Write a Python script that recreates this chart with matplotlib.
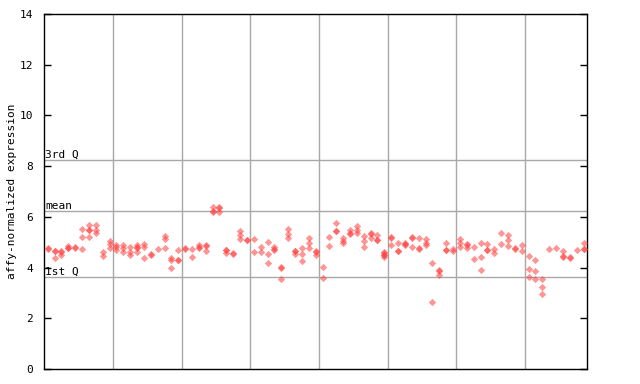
import matplotlib
matplotlib.use("Agg")
import matplotlib.pyplot as plt

# expression values per sample, grouped the way the grid lines split them (10 samples each)
g1 = [[4.78, 4.72], [4.67, 4.65, 4.37], [4.66, 4.62, 4.5], [4.85, 4.78, 4.76], [4.8, 4.78],
      [5.54, 5.22, 4.72], [5.67, 5.5, 5.48, 5.22], [5.67, 5.5, 5.38], [4.6, 4.45], [5.06, 4.93, 4.76]]
g2 = [[4.89, 4.8, 4.7], [4.89, 4.76, 4.6], [4.82, 4.6, 4.5], [4.89, 4.8, 4.78, 4.6], [4.93, 4.8, 4.37],
      [4.54, 4.5], [4.72], [5.24, 5.11, 4.76], [4.37, 4.28, 3.97], [4.68, 4.31, 4.29]]
g3 = [[4.77, 4.74], [4.72, 4.4], [4.89, 4.8, 4.78], [4.88, 4.86, 4.64], [6.38, 6.22, 6.18],
      [6.4, 6.36, 6.2], [4.7, 4.68, 4.58], [4.57, 4.54], [5.45, 5.28, 5.11], [5.09, 5.07]]
g4 = [[5.11, 4.62], [4.82, 4.62], [5.02, 4.52, 4.2], [4.8, 4.73, 4.71], [4.01, 3.99, 3.54],
      [5.54, 5.31, 5.15], [4.66, 4.64, 4.52], [4.76, 4.52, 4.26], [5.15, 4.95, 4.76], [4.64, 4.62, 4.5]]
g5 = [[4.02, 3.58], [5.22, 4.85], [5.74, 5.46, 5.44], [5.15, 5.06, 4.98], [5.48, 5.36, 5.34],
      [5.64, 5.48, 5.35], [5.24, 5.06, 4.8], [5.36, 5.34, 5.15], [5.28, 5.09, 5.07], [4.6, 4.58, 4.5, 4.48, 4.4]]
g6 = [[5.19, 5.17, 4.89], [4.95, 4.66, 4.64], [4.98, 4.92, 4.9], [5.19, 5.17, 4.8], [5.15, 4.77, 4.75],
      [5.11, 4.98, 4.89], [4.17, 2.65], [3.89, 3.87, 3.7], [4.98, 4.7, 4.68], [4.72, 4.66]]
g7 = [[5.11, 4.95, 4.8], [4.92, 4.9, 4.76], [4.82, 4.33], [4.95, 4.43, 3.89], [4.93, 4.7, 4.68],
      [4.72, 4.56], [5.38, 4.93], [5.28, 5.08, 4.85], [4.77, 4.75], [4.89, 4.67]]
g8 = [[4.46, 3.93, 3.64], [4.28, 3.86, 3.54], [3.54, 3.22, 2.95], [4.74], [4.76],
      [4.67, 4.44, 4.42], [4.4, 4.38], [4.69], [4.98, 4.75, 4.73]]

q1 = 3.63
mean = 6.23
q3 = 8.23
yticks = [0, 2, 4, 6, 8, 10, 12, 14]

samples = g1 + g2 + g3 + g4 + g5 + g6 + g7 + g8
xs, ys = [], []
for i, vals in enumerate(samples):
    for v in vals:
        xs.append(i)
        ys.append(v)

fig = plt.figure(figsize=(6.4, 3.84), dpi=100)
ax = fig.add_axes([44.3 / 640, 1 - 369 / 384, (587 - 44.3) / 640, (369 - 14) / 384])

mono = "DejaVu Sans Mono"
grey = "#a8a8a8"

for k in range(1, 8):
    ax.axvline(10 * k - 0.5, color=grey, lw=1, zorder=1)
for val, lab in [(q3, "3rd Q"), (mean, "mean"), (q1, "1st Q")]:
    ax.axhline(val, color=grey, lw=1, zorder=1)
    ax.text(-0.4, val + 0.02, lab, family=mono, fontsize=8, va="bottom", ha="left", zorder=2)

ax.scatter(xs, ys, marker="D", s=14, color="#ff4040", alpha=0.55, linewidths=0, zorder=3)

ax.set_xlim(-0.5, len(samples) - 0.5)
ax.set_ylim(0, 14)
ax.set_xticks([])
ax.set_yticks(yticks)
ax.set_yticklabels([str(t) for t in yticks], family=mono, fontsize=8)
ax.tick_params(axis="y", direction="in", length=5, width=1, right=True, pad=8)
ax.set_ylabel("affy-normalized expression", family=mono, fontsize=8, labelpad=2)
for s in ax.spines.values():
    s.set_linewidth(1)

fig.savefig("out.png", dpi=100)
